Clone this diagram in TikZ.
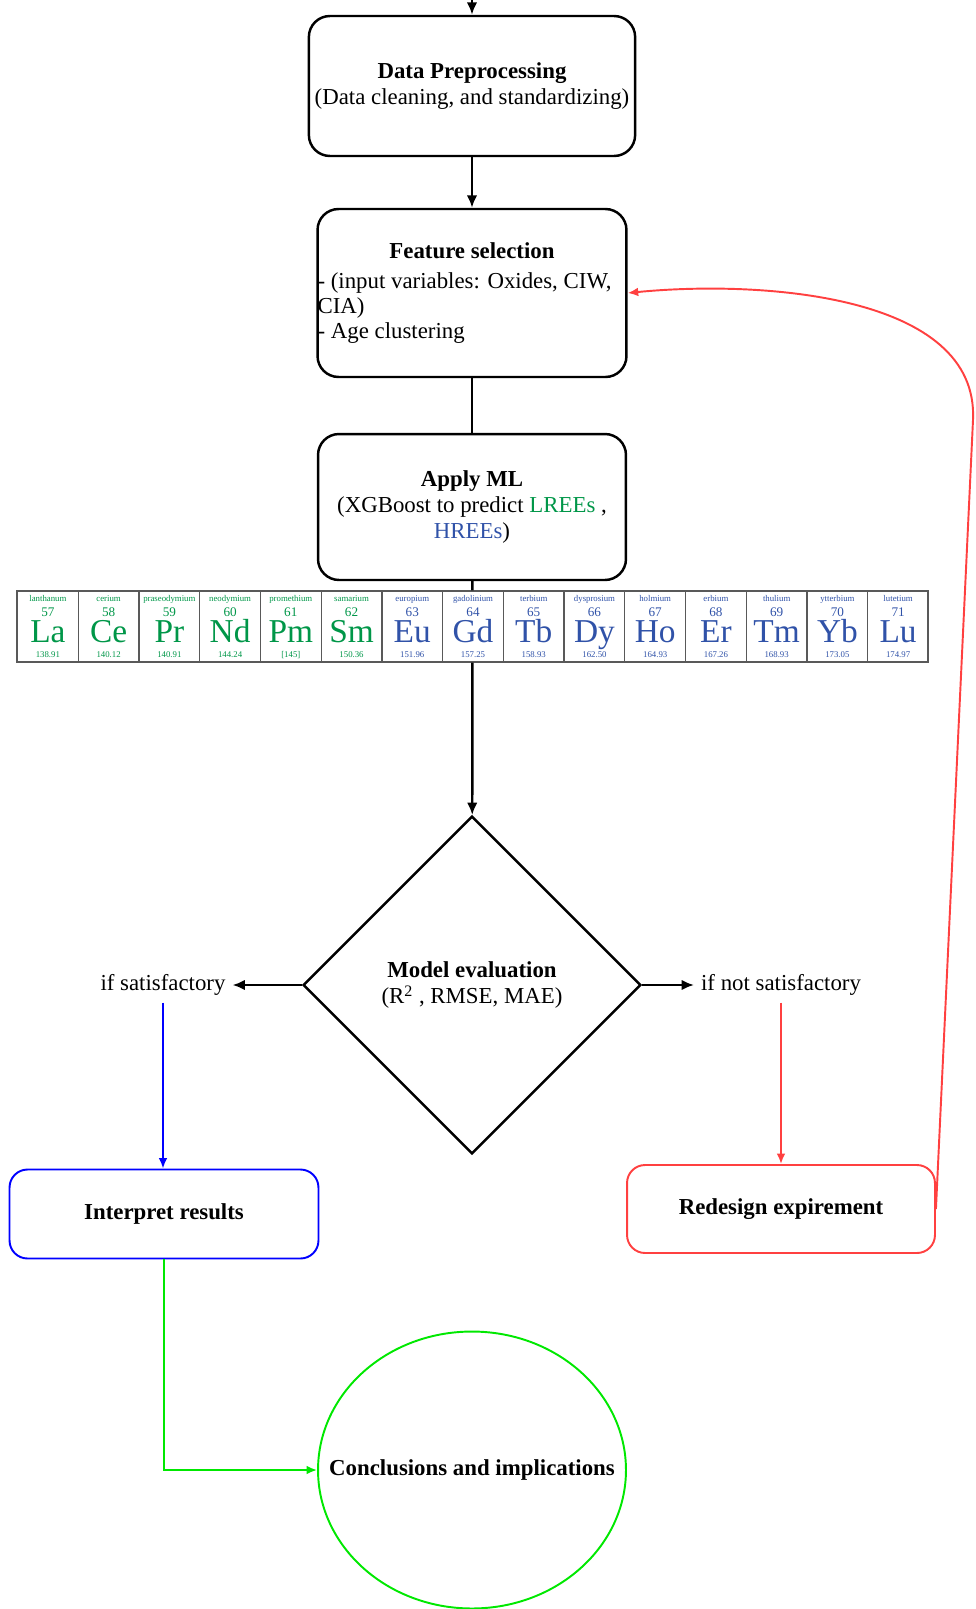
\documentclass[tikz,border=0pt]{standalone}
\usepackage{fontspec}
\setmainfont{Liberation Serif}
\usepackage{xcolor}
\usepackage{tikz}
\usetikzlibrary{arrows.meta,shapes.geometric}

\definecolor{lreegreen}{RGB}{0,150,72}
\definecolor{hreeblue}{RGB}{48,82,168}
\definecolor{loopred}{RGB}{255,64,64}
\definecolor{okblue}{RGB}{0,0,255}
\definecolor{endgreen}{RGB}{0,232,0}

\newcommand{\flowfont}{\fontsize{13}{15}\selectfont}

\tikzset{
  stepbox/.style={draw,rounded corners=0.42cm,line width=1.4pt,align=center},
  outbox/.style={draw,rounded corners=0.36cm,line width=1.1pt,font=\flowfont\bfseries},
  elcell/.style={draw=black!65,line width=0.6pt,minimum width=1.21cm,minimum height=1.42cm,inner sep=0pt},
  thinarrow/.style={-{Latex[length=6pt,width=5pt]},line width=1.1pt},
}

\begin{document}
\begin{tikzpicture}[x=0.02cm,y=-0.02cm,>={Latex[length=7pt,width=6pt]},line width=1.4pt,font=\flowfont]
\useasboundingbox (0,0) rectangle (976,1609);

\coordinate (top) at (472,0);
\node[stepbox,minimum width=6.32cm,minimum height=2.8cm] (prep) at (472,86) {\textbf{Data Preprocessing}\\(Data cleaning, and standardizing)};
\node[stepbox,minimum width=6.18cm,minimum height=3.36cm,align=left,inner xsep=0pt,font=\fontsize{13}{14.3}\selectfont] (fsel) at (472,293) {\makebox[6.18cm]{\textbf{Feature selection}}\\[3pt]- (input variables: Oxides, CIW,\\CIA)\\- Age clustering};
\node[stepbox,minimum width=6.16cm,minimum height=2.92cm] (apply) at (472,507) {\textbf{Apply ML}\\(XGBoost to predict \textcolor{lreegreen}{LREEs} ,\\\textcolor{hreeblue}{HREEs})};

% lanthanide strip
\node[draw=black!65,line width=0.8pt,minimum width=18.22cm,minimum height=1.42cm,inner sep=0pt] (ree) at (472.5,626.5) {};
\foreach \sym/\num/\nam/\mass [count=\i from 0] in {La/57/lanthanum/138.91,Ce/58/cerium/140.12,Pr/59/praseodymium/140.91,Nd/60/neodymium/144.24,Pm/61/promethium/{[145]},Sm/62/samarium/150.36,Eu/63/europium/151.96,Gd/64/gadolinium/157.25,Tb/65/terbium/158.93,Dy/66/dysprosium/162.50,Ho/67/holmium/164.93,Er/68/erbium/167.26,Tm/69/thulium/168.93,Yb/70/ytterbium/173.05,Lu/71/lutetium/174.97}{
  \ifnum\i<6 \def\elcol{lreegreen}\else\def\elcol{hreeblue}\fi
  \node[elcell] (el\i) at (47.9+60.73*\i,626.5) {};
  \node[anchor=base,inner sep=0pt,text=\elcol,font=\fontsize{5}{5}\selectfont] (nam\i) at (47.9+60.73*\i,601) {\nam};
  \node[anchor=base,inner sep=0pt,text=\elcol,font=\fontsize{7.5}{8}\selectfont] (num\i) at (47.9+60.73*\i,616) {\num};
  \node[anchor=base,inner sep=0pt,text=\elcol,font=\fontsize{19}{20}\selectfont] (sym\i) at (47.9+60.73*\i,642) {\sym};
  \node[anchor=base,inner sep=0pt,text=\elcol,font=\fontsize{5}{5}\selectfont] (mass\i) at (47.9+60.73*\i,657) {\mass};
}

\node[diamond,draw,aspect=1,minimum width=6.76cm,minimum height=6.76cm,inner sep=0pt,align=center] (evalm) at (472,985) {\textbf{Model evaluation}\\(R\textsuperscript{2} , RMSE, MAE)};
\node (sat) at (163,985) {if satisfactory};
\node (notsat) at (781,985) {if not satisfactory};

\node[outbox,draw=okblue,minimum width=6.18cm,minimum height=1.78cm] (interp) at (164,1214) {Interpret results};
\node[outbox,draw=loopred,minimum width=6.16cm,minimum height=1.76cm] (redesign) at (781,1209) {Redesign expirement};
\node[ellipse,draw=endgreen,line width=1.1pt,minimum width=6.16cm,minimum height=5.54cm,inner sep=0pt] (concl) at (472,1470) {};
\node[font=\flowfont\bfseries] (concltext) at (concl.center) {Conclusions and implications};

\draw[->] (top) -- (prep);
\draw[->] (prep) -- (fsel);
\draw (fsel) -- (apply);
\draw (apply) -- (ree);
\draw[->] (ree) -- (evalm);
\draw[->] (evalm) -- (sat);
\draw[->] (evalm) -- (notsat);
\draw[thinarrow,okblue] (sat.south) -- (sat.south |- interp.north);
\draw[thinarrow,loopred] (notsat) -- (redesign);
\draw[thinarrow,endgreen] (interp) |- (concl);
\coordinate (bend) at (973,420);
\draw[thinarrow,loopred] (redesign.east) -- (bend) .. controls (979,294) and (760,280) .. (fsel.east);

\end{tikzpicture}
\end{document}
